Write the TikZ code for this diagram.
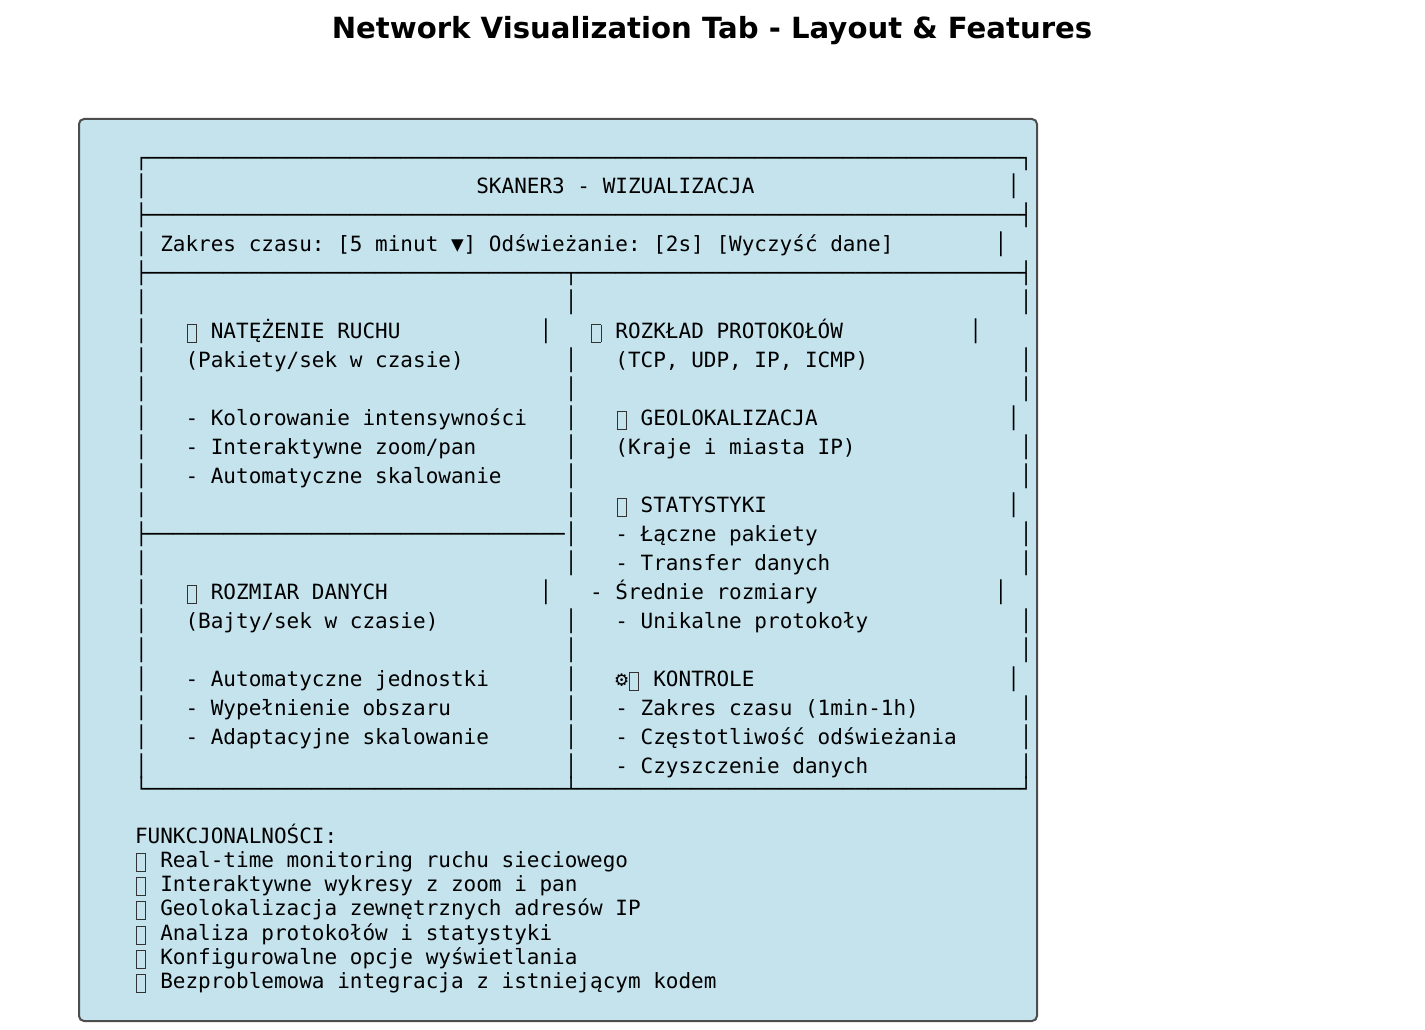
\documentclass[tikz,border=0pt]{standalone}
\usepackage{fontspec}
\setmainfont{DejaVu Sans}
\newfontfamily\monof{DejaVu Sans Mono}
\frenchspacing
\newlength\cw
\setlength\cw{12.642pt}
\newcommand\gap[1]{\hspace*{#1\cw}}
\newcommand\hrun[1]{\foreach\hi in {1,...,#1}{─}}
\setlength\fboxsep{0pt}
\setlength\fboxrule{0.9pt}
\newcommand\tofu{\makebox[\cw][c]{\smash{\raisebox{-3.7pt}{\color{black!80}\fbox{\rule{0pt}{16.6pt}\rule{8.2pt}{0pt}}}}}}
\definecolor{panelfill}{HTML}{C5E3ED}
\definecolor{paneledge}{HTML}{4D4D4D}
\tikzset{
  line/.style={anchor=base west,inner sep=0pt,outer sep=0pt,font=\monof\fontsize{21}{21}\selectfont,text=black},
  panel/.style={fill=panelfill,draw=paneledge,line width=2pt,rounded corners=5pt},
  heading/.style={anchor=center,inner sep=0pt,font=\fontsize{29.15}{30}\bfseries\selectfont,text=black}
}
\begin{document}
\begin{tikzpicture}[x=1pt,y=-1pt]
\useasboundingbox (0,0) rectangle (1425,1030);
\node[heading] (title) at (712,31) {Network Visualization Tab - Layout \& Features};
\draw[panel] (79,119) rectangle (1037,1021);
\newcommand\row[3][0]{\node[line] (r#2) at (135,{164+29*#2+#1}) {#3};}
\row[1.7]{0}{┌\hrun{69}┐}
\row[0.7]{1}{│\gap{26}SKANER3 - WIZUALIZACJA\gap{20}│}
\row[0.7]{2}{├\hrun{69}┤}
\row{3}{│\gap{1}Zakres czasu: [5 minut ▼] Odświeżanie: [2s] [Wyczyść dane]\gap{8}│}
\row[0.7]{4}{├\hrun{33}┬\hrun{35}┤}
\row{5}{│\gap{33}│\gap{35}│}
\row{6}{│\gap{3}\tofu\gap{1}NATĘŻENIE RUCHU\gap{11}│\gap{3}\tofu\gap{1}ROZKŁAD PROTOKOŁÓW\gap{10}│}
\row{7}{│\gap{3}(Pakiety/sek w czasie)\gap{8}│\gap{3}(TCP, UDP, IP, ICMP)\gap{12}│}
\row{8}{│\gap{33}│\gap{35}│}
\row{9}{│\gap{3}- Kolorowanie intensywności\gap{3}│\gap{3}\tofu\gap{1}GEOLOKALIZACJA\gap{15}│}
\row{10}{│\gap{3}- Interaktywne zoom/pan\gap{7}│\gap{3}(Kraje i miasta IP)\gap{13}│}
\row{11}{│\gap{3}- Automatyczne skalowanie\gap{5}│\gap{35}│}
\row{12}{│\gap{33}│\gap{3}\tofu\gap{1}STATYSTYKI\gap{19}│}
\row{13}{├\hrun{33}│\gap{3}- Łączne pakiety\gap{16}│}
\row{14}{│\gap{33}│\gap{3}- Transfer danych\gap{15}│}
\row{15}{│\gap{3}\tofu\gap{1}ROZMIAR DANYCH\gap{12}│\gap{3}- Średnie rozmiary\gap{14}│}
\row{16}{│\gap{3}(Bajty/sek w czasie)\gap{10}│\gap{3}- Unikalne protokoły\gap{12}│}
\row{17}{│\gap{33}│\gap{35}│}
\row{18}{│\gap{3}- Automatyczne jednostki\gap{6}│\gap{3}⚙\tofu\gap{1}KONTROLE\gap{20}│}
\row{19}{│\gap{3}- Wypełnienie obszaru\gap{9}│\gap{3}- Zakres czasu (1min-1h)\gap{8}│}
\row{20}{│\gap{3}- Adaptacyjne skalowanie\gap{6}│\gap{3}- Częstotliwość odświeżania\gap{5}│}
\row{21}{│\gap{33}│\gap{3}- Czyszczenie danych\gap{12}│}
\row[-5.3]{22}{└\hrun{33}┴\hrun{35}┘}
\node[line] (f0) at (135,843) {FUNKCJONALNOŚCI:};
\node[line] (f1) at (135,867) {\tofu\gap{1}Real-time monitoring ruchu sieciowego};
\node[line] (f2) at (135,891) {\tofu\gap{1}Interaktywne wykresy z zoom i pan};
\node[line] (f3) at (135,915) {\tofu\gap{1}Geolokalizacja zewnętrznych adresów IP};
\node[line] (f4) at (135,940) {\tofu\gap{1}Analiza protokołów i statystyki};
\node[line] (f5) at (135,964) {\tofu\gap{1}Konfigurowalne opcje wyświetlania};
\node[line] (f6) at (135,988) {\tofu\gap{1}Bezproblemowa integracja z istniejącym kodem};
\end{tikzpicture}
\end{document}
